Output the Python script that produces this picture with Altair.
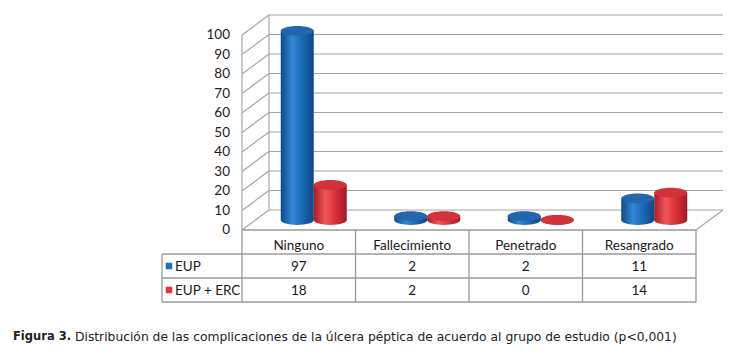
import altair as alt
import pandas as pd

# ---- data ----
categories = ["Ninguno", "Fallecimiento", "Penetrado", "Resangrado"]
series = ["EUP", "EUP + ERC"]
values_eup = [97, 2, 2, 11]
values_erc = [18, 2, 0, 14]
ticks = [0, 10, 20, 30, 40, 50, 60, 70, 80, 90, 100]
header_key = "header"
caption_bold = "Figura 3."
caption_rest = "Distribución de las complicaciones de la úlcera péptica de acuerdo al grupo de estudio (p<0,001)"

# ---- tables ----
df_eup = pd.DataFrame({"category": categories, "series": series[0], "value": values_eup})
df_erc = pd.DataFrame({"category": categories, "series": series[1], "value": values_erc})
df_all = pd.concat([df_eup, df_erc], ignore_index=True)
df_cats = pd.DataFrame({"category": categories})
df_ticks = pd.DataFrame({"tick": ticks})
df_series = pd.DataFrame({"series": series})

# ---- style ----
FONT = "Lato"
GRID = "#a6a6a6"
TBL = "#9a9a9a"
DX = 27      # depth offset x
DY = -20     # depth offset y
BW = 33      # bar width

xs = alt.Scale(type="band", domain=categories, range=[242, 696], paddingInner=0, paddingOuter=0)
ys = alt.Scale(type="linear", domain=[0, 100], range=[230, 35], nice=False, zero=False)
rs = alt.Scale(type="band", domain=[header_key] + series, range=[230, 302], paddingInner=0, paddingOuter=0)

def xd(cat, bp):
    return alt.XDatum(cat, type="nominal", bandPosition=bp, scale=xs, axis=None)

def x2d(cat, bp):
    return alt.X2Datum(cat, bandPosition=bp)

def yv(v):
    return alt.YDatum(v, type="quantitative", scale=ys, axis=None)

def yr(r, bp):
    return alt.YDatum(r, type="nominal", bandPosition=bp, scale=rs, axis=None)

XC = alt.X("category:N", scale=xs, axis=None)

ELL = "M -1 0 A 1 0.3 0 1 1 1 0 A 1 0.3 0 1 1 -1 0 Z"


def grad(stops):
    return alt.LinearGradient(
        gradient="linear",
        stops=[alt.GradientStop(color=c, offset=o) for o, c in stops],
        x1=0, x2=1, y1=0, y2=0,
    )

blue_grad = grad([(0, "#0c4a86"), (0.35, "#3288d6"), (0.6, "#1d6dbd"), (1, "#0c4884")])
red_grad = grad([(0, "#a51b25"), (0.35, "#f2565b"), (0.6, "#e0363e"), (1, "#a31a24")])
blue_top = "#2466ad"
red_top = "#d3323a"

layers = []

# ---- back wall gridlines ----
layers.append(
    alt.Chart(df_ticks).mark_rule(color=GRID, strokeWidth=1.2, xOffset=DX, x2Offset=DX, yOffset=DY).encode(
        x=xd(categories[0], 0), x2=x2d(categories[-1], 1),
        y=alt.Y("tick:Q", scale=ys, axis=None),
    )
)
# ---- side wall gridlines ----
layers.append(
    alt.Chart(df_ticks).mark_rule(color=GRID, strokeWidth=1.2, x2Offset=DX, y2Offset=DY).encode(
        x=xd(categories[0], 0), x2=x2d(categories[0], 0),
        y=alt.Y("tick:Q", scale=ys, axis=None), y2=alt.Y2("tick:Q"),
    )
)
# side wall front edge
layers.append(
    alt.Chart(df_series.head(1)).mark_rule(color=GRID, strokeWidth=1.2).encode(
        x=xd(categories[0], 0), y=yv(0), y2=alt.Y2Datum(100),
    )
)
# back corner
layers.append(
    alt.Chart(df_series.head(1)).mark_rule(color=GRID, strokeWidth=1.2, xOffset=DX, yOffset=DY, y2Offset=DY).encode(
        x=xd(categories[0], 0), y=yv(0), y2=alt.Y2Datum(100),
    )
)
# floor right edge
layers.append(
    alt.Chart(df_series.head(1)).mark_rule(color=GRID, strokeWidth=1.2, x2Offset=DX, y2Offset=DY).encode(
        x=xd(categories[-1], 1), x2=x2d(categories[-1], 1), y=yv(0), y2=alt.Y2Datum(0),
    )
)

# ---- y labels ----
layers.append(
    alt.Chart(df_ticks).mark_text(align="right", baseline="middle", font=FONT, fontSize=13.5, color="#1a1a1a", xOffset=-12).encode(
        x=xd(categories[0], 0), y=alt.Y("tick:Q", scale=ys, axis=None), text="tick:Q",
    )
)

# ---- cylinders ----
for df_s, g, top, off in [(df_eup, blue_grad, blue_top, -1.5), (df_erc, red_grad, red_top, 31.5)]:
    base = alt.Chart(df_s)
    layers.append(
        base.mark_point(shape=ELL, size=BW * BW, filled=True, color=g, opacity=1, strokeWidth=0,
                        xOffset=off, yOffset=-10).encode(x=XC, y=yv(0))
    )
    layers.append(
        base.mark_bar(width=BW, color=g, opacity=1, xOffset=off, yOffset=-10, y2Offset=-10).encode(
            x=XC, y=alt.Y("value:Q", scale=ys, axis=None)
        )
    )
    layers.append(
        base.mark_point(shape=ELL, size=BW * BW, filled=True, color=top, opacity=1, strokeWidth=0,
                        xOffset=off, yOffset=-10).encode(x=XC, y=alt.Y("value:Q", scale=ys, axis=None))
    )

# ---- data table ----
# top edge (floor front)
layers.append(
    alt.Chart(df_series.head(1)).mark_rule(color=TBL, strokeWidth=1.3).encode(
        x=xd(categories[0], 0), x2=x2d(categories[-1], 1), y=yv(0),
    )
)
# row lines
layers.append(
    alt.Chart(df_series).mark_rule(color=TBL, strokeWidth=1.3, xOffset=-80).encode(
        x=xd(categories[0], 0), x2=x2d(categories[-1], 1),
        y=alt.Y("series:N", scale=rs, axis=None, bandPosition=0),
    )
)
layers.append(
    alt.Chart(df_series.head(1)).mark_rule(color=TBL, strokeWidth=1.3, xOffset=-80).encode(
        x=xd(categories[0], 0), x2=x2d(categories[-1], 1), y=yr(series[-1], 1),
    )
)
# column lines
layers.append(
    alt.Chart(df_cats).mark_rule(color=TBL, strokeWidth=1.3).encode(
        x=alt.X("category:N", scale=xs, axis=None, bandPosition=0),
        y=yr(header_key, 0), y2=alt.Y2Datum(series[-1], bandPosition=1),
    )
)
layers.append(
    alt.Chart(df_series.head(1)).mark_rule(color=TBL, strokeWidth=1.3).encode(
        x=xd(categories[-1], 1), y=yr(header_key, 0), y2=alt.Y2Datum(series[-1], bandPosition=1),
    )
)
# left border of label column
layers.append(
    alt.Chart(df_series.head(1)).mark_rule(color=TBL, strokeWidth=1.3, xOffset=-80).encode(
        x=xd(categories[0], 0), y=yr(series[0], 0), y2=alt.Y2Datum(series[-1], bandPosition=1),
    )
)
# header texts
layers.append(
    alt.Chart(df_cats).mark_text(baseline="middle", font=FONT, fontSize=13.5, color="#1a1a1a", dy=4).encode(
        x=XC, y=yr(header_key, 0.5), text="category:N",
    )
)
# values
layers.append(
    alt.Chart(df_all).mark_text(baseline="middle", font=FONT, fontSize=13.5, color="#1a1a1a", dy=1).encode(
        x=XC, y=alt.Y("series:N", scale=rs, axis=None), text="value:Q",
    )
)
# row labels
layers.append(
    alt.Chart(df_series).mark_text(align="left", baseline="middle", font=FONT, fontSize=13.5, color="#1a1a1a",
                                   xOffset=-67, dy=1).encode(
        x=xd(categories[0], 0), y=alt.Y("series:N", scale=rs, axis=None), text="series:N",
    )
)
# legend keys
layers.append(
    alt.Chart(df_series).mark_point(shape="square", filled=True, opacity=1, size=42, xOffset=-73).encode(
        x=xd(categories[0], 0), y=alt.Y("series:N", scale=rs, axis=None),
        color=alt.Color("series:N", scale=alt.Scale(domain=series, range=["#1f6fbd", "#e0343c"]), legend=None),
    )
)

# ---- caption ----
layers.append(
    alt.Chart(pd.DataFrame({"t": [caption_bold]})).mark_text(
        align="left", baseline="middle", font="DejaVu Sans", fontWeight="bold", fontSize=11.5, color="#222222"
    ).encode(x=alt.value(13), y=alt.value(337), text="t:N")
)
layers.append(
    alt.Chart(pd.DataFrame({"t": [caption_rest]})).mark_text(
        align="left", baseline="middle", font="DejaVu Sans", fontSize=12.3, color="#222222"
    ).encode(x=alt.value(75), y=alt.value(337), text="t:N")
)

chart = (
    alt.layer(*layers)
    .resolve_scale(y="independent")
    .properties(width=736, height=357, autosize=alt.AutoSizeParams(type="none"), padding=0)
    .configure_view(stroke=None)
)

chart.save("out.html", embed_options={"renderer": "svg", "actions": False})
